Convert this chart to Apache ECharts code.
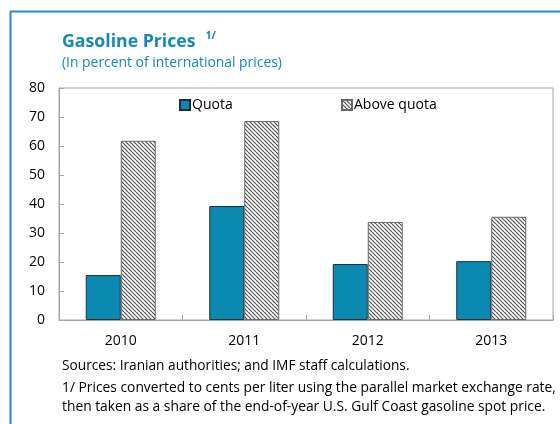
<!DOCTYPE html>
<html>
<head>
<meta charset="utf-8">
<script src="https://cdn.jsdelivr.net/npm/echarts@6/dist/echarts.min.js"></script>
<style>
  html, body { margin: 0; padding: 0; background: #fff; }
  #chart { width: 560px; height: 424px; }
</style>
</head>
<body>
<div id="chart"></div>
<script>
// data
var years = ['2010', '2011', '2012', '2013'];
var quota = [15.5, 39.3, 19.3, 20.3];
var aboveQuota = [61.8, 68.6, 33.8, 35.6];
var yTicks = [0, 10, 20, 30, 40, 50, 60, 70, 80];

var FONT = '"Open Sans"';
var BLUE = '#1689b6';

// hatch pattern for "Above quota"
var makeHatch = function () {
    var c = document.createElement('canvas');
    c.width = 8; c.height = 8;
    var ctx = c.getContext('2d');
    ctx.fillStyle = '#fff';
    ctx.fillRect(0, 0, 8, 8);
    ctx.strokeStyle = '#555';
    ctx.lineWidth = 1.2;
    for (var x = -8; x <= 8; x += 4) {
        ctx.beginPath();
        ctx.moveTo(x, 0);
        ctx.lineTo(x + 8, 8);
        ctx.stroke();
    }
    return c;
};
var hatch = makeHatch();

// width of the title, so the "1/" sits right after it
var measure = document.createElement('canvas').getContext('2d');
measure.font = 'bold 17.7px ' + FONT;
var titleW = measure.measureText('Gasoline Prices').width;

var myChart = echarts.init(document.getElementById('chart'), null, { renderer: 'canvas' });
var option = {
    animation: false,
    textStyle: { fontFamily: FONT },
    grid: {
        left: 59, right: 7, top: 88, bottom: 104,
        show: true, borderColor: '#a6a6a6', borderWidth: 1
    },
    legend: [{
        data: ['Quota'], left: 179, top: 98, icon: 'rect', padding: 0,
        itemWidth: 10, itemHeight: 10,
        textStyle: { fontFamily: FONT, fontSize: 14, color: '#000', padding: [0, 0, 0, -3] }
    }, {
        data: ['Above quota'], left: 341, top: 98, icon: 'rect', padding: 0,
        itemWidth: 10, itemHeight: 10,
        textStyle: { fontFamily: FONT, fontSize: 14, color: '#000', padding: [0, 0, 0, -3] }
    }],
    xAxis: {
        type: 'category',
        data: years,
        axisLine: { lineStyle: { color: '#a6a6a6' } },
        axisTick: { show: true, inside: true, length: 5, lineStyle: { color: '#a6a6a6' } },
        axisLabel: { color: '#000', fontSize: 14, margin: 14, fontFamily: FONT }
    },
    yAxis: {
        type: 'value',
        min: 0, max: 80, interval: 10,
        axisLine: { show: true, lineStyle: { color: '#a6a6a6' } },
        axisTick: { show: true, inside: true, length: 5, lineStyle: { color: '#a6a6a6' } },
        splitLine: { show: false },
        axisLabel: {
            color: '#000', fontSize: 14, margin: 14, fontFamily: FONT,
            formatter: function (v) { return yTicks.indexOf(v) >= 0 ? String(v) : ''; }
        }
    },
    series: [{
        name: 'Quota',
        type: 'bar',
        data: quota,
        barWidth: 35,
        barGap: '0%',
        itemStyle: { color: '#0a8ab1', borderColor: '#1c2f3a', borderWidth: 1 }
    }, {
        name: 'Above quota',
        type: 'bar',
        data: aboveQuota,
        barWidth: 35,
        barGap: '0%',
        itemStyle: {
            color: { image: hatch, repeat: 'repeat' },
            borderColor: '#6a6a6a', borderWidth: 1
        }
    }],
    graphic: [
        // blue frame (left and top)
        { type: 'line', shape: { x1: 10, y1: 11.5, x2: 560, y2: 11.5 }, style: { stroke: '#2b8ad3', lineWidth: 2 } },
        { type: 'line', shape: { x1: 10.5, y1: 11, x2: 10.5, y2: 424 }, style: { stroke: '#2b8ad3', lineWidth: 2 } },
        { type: 'text', left: 62, top: 33, style: { text: 'Gasoline Prices', font: 'bold 17.7px ' + FONT, fill: BLUE } },
        { type: 'text', left: 62 + titleW + 10, top: 31, style: { text: '1/', font: 'bold 10.5px ' + FONT, fill: BLUE } },
        { type: 'text', left: 62, top: 56, style: { text: '(In percent of international prices)', font: '13.9px ' + FONT, fill: BLUE } },
        { type: 'text', left: 62, top: 359, style: { text: 'Sources: Iranian authorities; and IMF staff calculations.', font: '13.7px ' + FONT, fill: '#000' } },
        { type: 'text', left: 62, top: 381, style: { text: '1/ Prices converted to cents per liter using the parallel market exchange rate,', font: '13.8px ' + FONT, fill: '#000' } },
        { type: 'text', left: 62, top: 400, style: { text: 'then taken as a share of the end-of-year U.S. Gulf Coast gasoline spot price.', font: '13.8px ' + FONT, fill: '#000' } }
    ]
};
myChart.setOption(option);
</script>
</body>
</html>
